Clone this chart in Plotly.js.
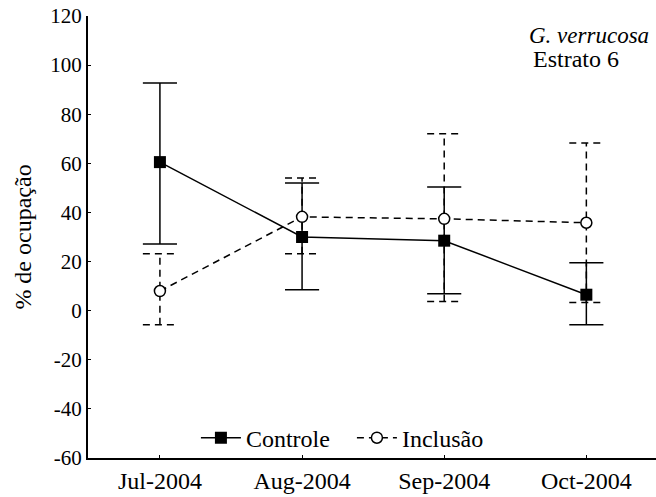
<!DOCTYPE html>
<html>
<head>
<meta charset="utf-8">
<script src="https://cdn.plot.ly/plotly-3.0.1.min.js"></script>
</head>
<body style="margin:0;background:#fff">
<div id="chart"></div>
<script>
const months = ["Jul-2004", "Aug-2004", "Sep-2004", "Oct-2004"];
const controleMean = [60.5, 30, 28.5, 6.5];
const controleUpper = [92.7, 52, 50.4, 19.5];
const controleLower = [27.2, 8.5, 6.9, -5.7];
const inclusaoMean = [8, 38.2, 37.4, 35.8];
const inclusaoUpper = [23.2, 54, 72, 68.3];
const inclusaoLower = [-5.7, 23.2, 3.7, 3.3];
const yTicks = [-60, -40, -20, 0, 20, 40, 60, 80, 100, 120];

const idx = months.map((m, i) => i);
const capHalf = 0.12;

function errTrace(upper, lower, dash) {
  const xs = [], ys = [];
  idx.forEach(i => {
    xs.push(i, i, null, i - capHalf, i + capHalf, null, i - capHalf, i + capHalf, null);
    ys.push(lower[i], upper[i], null, upper[i], upper[i], null, lower[i], lower[i], null);
  });
  return {x: xs, y: ys, mode: 'lines', type: 'scatter', showlegend: false, hoverinfo: 'skip',
    line: {color: '#000', width: 1.5, dash: dash}};
}

const traces = [
  errTrace(inclusaoUpper, inclusaoLower, '7px,5px'),
  errTrace(controleUpper, controleLower, 'solid'),
  {x: idx, y: controleMean, name: 'Controle', mode: 'lines+markers', type: 'scatter',
   line: {color: '#000', width: 1.5}, marker: {symbol: 'square', size: 12, color: '#000'}},
  {x: idx, y: inclusaoMean, name: 'Inclusão', mode: 'lines+markers', type: 'scatter',
   line: {color: '#000', width: 1.5, dash: '7px,5px'},
   marker: {symbol: 'circle', size: 11, color: '#fff', line: {color: '#000', width: 1.5}}}
];

function f(s) { return {family: 'Liberation Serif', size: s, color: '#000'}; }

const layout = {
  width: 656, height: 497,
  margin: {l: 88, r: 0, t: 16, b: 39},
  paper_bgcolor: '#fff', plot_bgcolor: '#fff',
  showlegend: true,
  legend: {orientation: 'h', x: 0.19, y: 0.045, xanchor: 'left', yanchor: 'middle',
    bgcolor: 'rgba(0,0,0,0)', font: f(24), itemwidth: 40, tracegroupgap: 0, entrywidth: 101},
  xaxis: {range: [-0.506, 3.49], tickvals: idx, ticktext: months, showgrid: false, zeroline: false,
    showline: true, linecolor: '#000', linewidth: 2, ticks: 'inside', ticklen: 3, tickcolor: '#000',
    tickfont: f(24)},
  yaxis: {range: [-60, 120], tickvals: yTicks, ticktext: yTicks.map(String), showgrid: false, zeroline: false,
    showline: true, linecolor: '#000', linewidth: 2, ticks: 'inside', ticklen: 3, tickcolor: '#000',
    tickfont: f(21), title: {text: '% de ocupação', font: f(24), standoff: 12}},
  annotations: [
    {xref: 'paper', yref: 'paper', x: 0.773, y: 0.955, xanchor: 'left', yanchor: 'middle',
     text: 'G. verrucosa', showarrow: false, font: Object.assign(f(23), {style: 'italic'})},
    {xref: 'paper', yref: 'paper', x: 0.78, y: 0.903, xanchor: 'left', yanchor: 'middle',
     text: 'Estrato 6', showarrow: false, font: f(24)}
  ]
};

Plotly.newPlot('chart', traces, layout, {displayModeBar: false});
</script>
</body>
</html>
